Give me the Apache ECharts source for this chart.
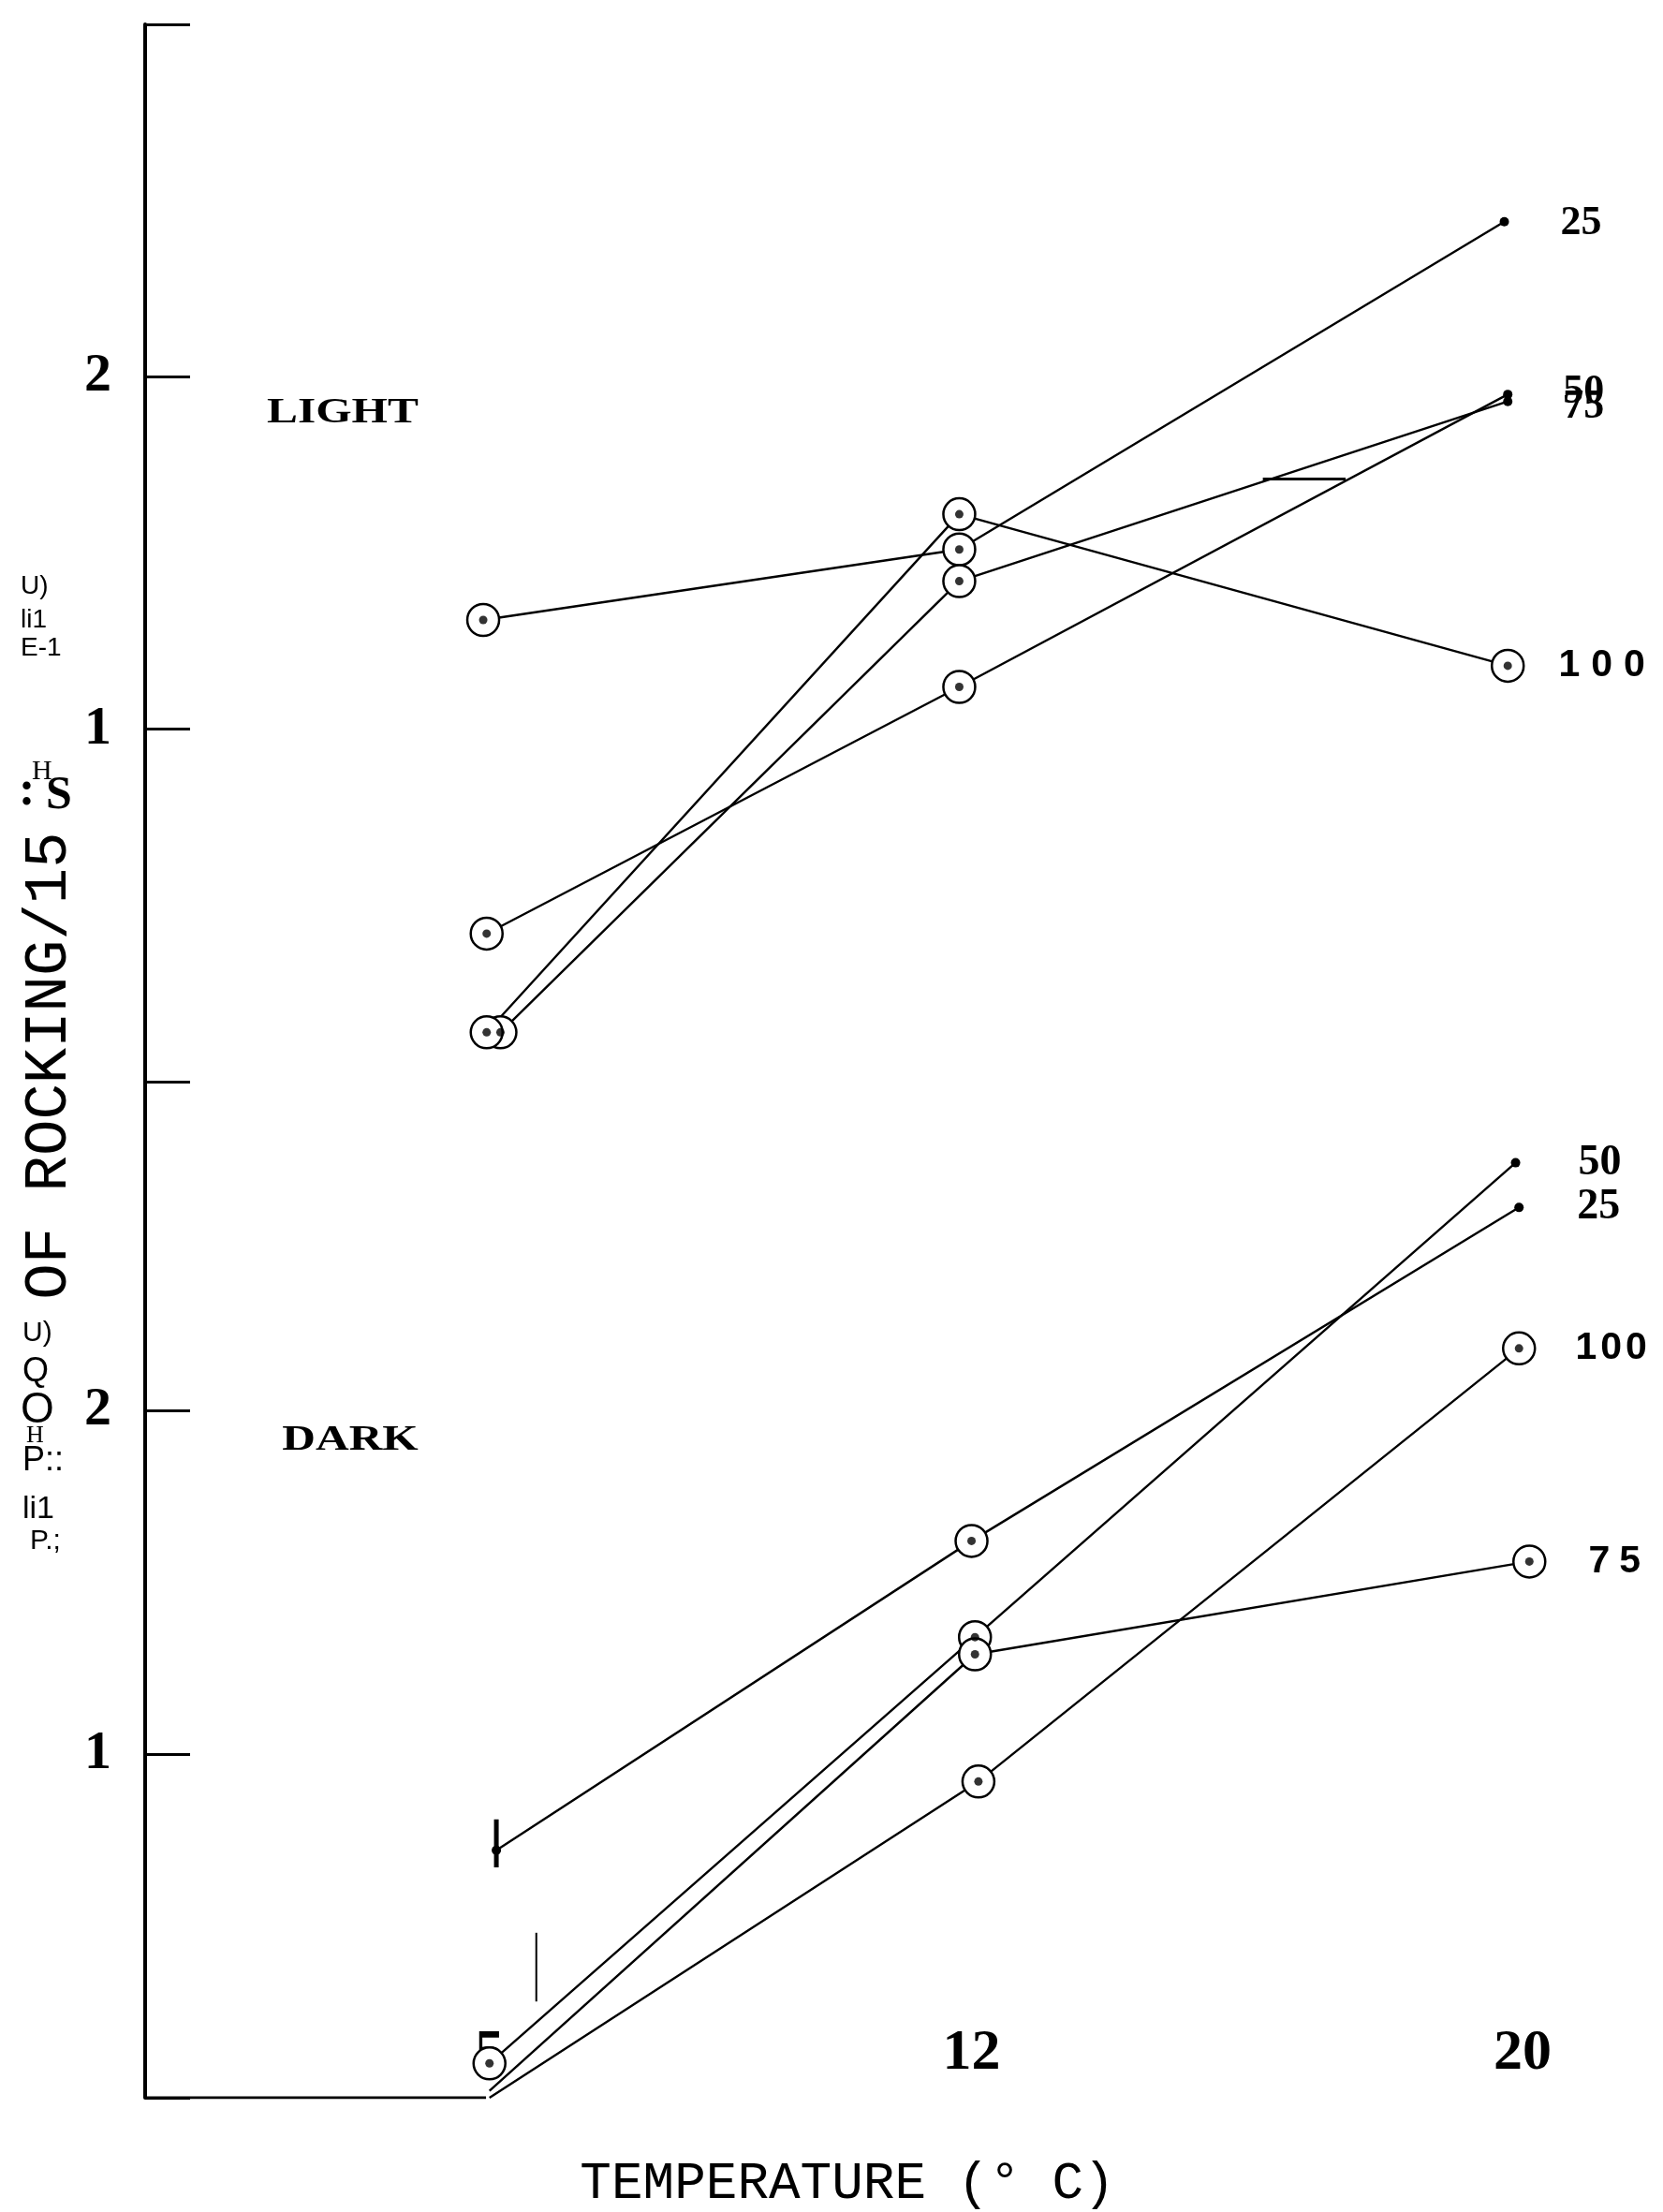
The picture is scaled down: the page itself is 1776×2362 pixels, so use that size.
<!DOCTYPE html>
<html>
<head>
<meta charset="utf-8">
<script src="https://cdn.jsdelivr.net/npm/echarts@6/dist/echarts.min.js"></script>
<style>
  html, body { margin: 0; background: #fff; }
  #chart { width: 1776px; height: 2362px; }
</style>
</head>
<body>
<div id="chart"></div>
<script>
  // tick labels
  const tempLabels = [5, 12, 20];
  const yLabels = [1, 2];

  // LIGHT panel (rocking / 15 min against temperature)
  const light25X = [4.9, 11.8, 19.7];
  const light25Y = [1.31, 1.51, 2.44];
  const light50X = [4.95, 11.8, 19.75];
  const light50Y = [0.42, 1.12, 1.95];
  const light75X = [5.15, 11.8, 19.75];
  const light75Y = [0.14, 1.42, 1.93];
  const light100X = [4.95, 11.8, 19.75];
  const light100Y = [0.14, 1.61, 1.18];

  // DARK panel
  const dark25X = [5.1, 12.0, 19.95];
  const dark25Y = [0.72, 1.62, 2.59];
  const dark50X = [5.0, 12.05, 19.9];
  const dark50Y = [0.10, 1.34, 2.72];
  const dark75X = [5.0, 12.05, 20.1];
  const dark75Y = [0.02, 1.29, 1.56];
  const dark100X = [5.0, 12.1, 19.95];
  const dark100Y = [0.0, 0.92, 2.18];

  // marker kind of each point: ring = circled dot, dot = small dot
  const light25Marks = ['ring', 'ring', 'dot'];
  const light50Marks = ['ring', 'ring', 'dot'];
  const light75Marks = ['ring', 'ring', 'dot'];
  const light100Marks = ['ring', 'ring', 'ring'];
  const dark25Marks = ['dot', 'ring', 'dot'];
  const dark50Marks = ['ring', 'ring', 'dot'];
  const dark75Marks = ['none', 'ring', 'ring'];
  const dark100Marks = ['none', 'ring', 'ring'];

  // vertical range bars near 5 °C in the dark panel
  const darkBarX = [5.1, 5.68];
  const darkBarLow = [0.67, 0.28];
  const darkBarHigh = [0.81, 0.48];

  // short stray dash in the light panel
  const lightDashX = [16.2, 17.4];
  const lightDashY = [1.71, 1.71];

  // x axis line only drawn up to the first temperature
  const xAxisStub = [0, 4.95];

  const serifBold = { fontFamily: 'Liberation Serif', fontWeight: 'bold', color: '#000' };

  function spaced(text, size, pad) {
    return {
      formatter: text.split('').map(c => '{d|' + c + '}').join(''),
      rich: { d: { fontFamily: 'Liberation Sans', fontWeight: 'bold', fontSize: size, color: '#000', padding: [0, pad, 0, pad] } }
    };
  }

  const endLabels = {
    l25: Object.assign({ distance: 55, fontSize: 44, formatter: '25', offset: [0, 2] }, serifBold),
    l50: Object.assign({ distance: 54, fontSize: 44, formatter: '50', offset: [0, -3] }, serifBold),
    l75: Object.assign({ distance: 54, fontSize: 44, formatter: '75', offset: [0, 6] }, serifBold),
    l100: Object.assign({ distance: 30 }, spaced('100', 41, 6)),
    d50: Object.assign({ distance: 62, fontSize: 46, formatter: '50' }, serifBold),
    d25: Object.assign({ distance: 57, fontSize: 46, formatter: '25' }, serifBold),
    d100: Object.assign({ distance: 40 }, spaced('100', 41, 2)),
    d75: Object.assign({ distance: 40 }, spaced('75', 41, 5))
  };

  function item(x, y, mark) {
    if (mark === 'ring') {
      return { value: [x, y], symbol: 'circle', symbolSize: 34,
        itemStyle: { color: '#fff', borderColor: '#000', borderWidth: 2.5 } };
    }
    if (mark === 'dot') {
      return { value: [x, y], symbol: 'circle', symbolSize: 10,
        itemStyle: { color: '#000', borderWidth: 0 } };
    }
    return { value: [x, y], symbol: 'none' };
  }

  const centers = [[], []];

  function makeLine(name, xs, ys, marks, grid, label) {
    const data = xs.map((x, i) => item(x, ys[i], marks[i]));
    marks.forEach((m, i) => { if (m === 'ring') centers[grid].push([xs[i], ys[i]]); });
    const last = data[data.length - 1];
    last.label = Object.assign({ show: true, position: 'right' }, label);
    return {
      name: name, type: 'line', xAxisIndex: grid, yAxisIndex: grid,
      data: data, color: '#000', silent: true, z: 2,
      lineStyle: { color: '#000', width: 2.4 }
    };
  }

  function plain(grid, pts, width) {
    return {
      type: 'line', xAxisIndex: grid, yAxisIndex: grid, silent: true, symbol: 'none', z: 1,
      data: pts, lineStyle: { color: '#000', width: width }
    };
  }

  const series = [
    makeLine('25', light25X, light25Y, light25Marks, 0, endLabels.l25),
    makeLine('50', light50X, light50Y, light50Marks, 0, endLabels.l50),
    makeLine('75', light75X, light75Y, light75Marks, 0, endLabels.l75),
    makeLine('100', light100X, light100Y, light100Marks, 0, endLabels.l100),
    makeLine('25', dark25X, dark25Y, dark25Marks, 1, endLabels.d25),
    makeLine('50', dark50X, dark50Y, dark50Marks, 1, endLabels.d50),
    makeLine('75', dark75X, dark75Y, dark75Marks, 1, endLabels.d75),
    makeLine('100', dark100X, dark100Y, dark100Marks, 1, endLabels.d100)
  ];

  [0, 1].forEach(g => {
    series.push({
      type: 'scatter', xAxisIndex: g, yAxisIndex: g, data: centers[g],
      symbol: 'circle', symbolSize: 9, itemStyle: { color: '#000' }, silent: true, z: 5
    });
  });

  series.push(plain(1, xAxisStub.map(x => [x, 0]), 3));
  series.push(plain(1, [[darkBarX[0], darkBarLow[0]], [darkBarX[0], darkBarHigh[0]]], 5));
  series.push(plain(1, [[darkBarX[1], darkBarLow[1]], [darkBarX[1], darkBarHigh[1]]], 2));
  series.push(plain(0, lightDashX.map((x, i) => [x, lightDashY[i]]), 3));

  function yAxis(grid, max) {
    return {
      type: 'value', gridIndex: grid, min: 0, max: max, interval: 1,
      axisLine: { show: true, lineStyle: { color: '#000', width: 4 } },
      axisTick: { show: true, inside: true, length: 48, lineStyle: { color: '#000', width: 3 } },
      splitLine: { show: false },
      axisLabel: {
        margin: 36, fontFamily: 'Liberation Serif', fontWeight: 'bold', fontSize: 58, color: '#000',
        formatter: v => yLabels.includes(v) ? String(v) : ''
      }
    };
  }

  const option = {
    backgroundColor: '#fff',
    animation: false,
    grid: [
      { left: 155, right: 0, top: 26, height: 1129 },
      { left: 155, right: 0, top: 1155, height: 1085 }
    ],
    xAxis: [
      { type: 'value', gridIndex: 0, min: 0, max: 22, show: false },
      {
        type: 'value', gridIndex: 1, min: 0, max: 22, interval: 1,
        axisLine: { show: false }, axisTick: { show: false }, splitLine: { show: false },
        axisLabel: {
          inside: true, margin: 16, fontFamily: 'Liberation Serif', fontWeight: 'bold',
          fontSize: 62, color: '#000', verticalAlign: 'bottom',
          formatter: v => tempLabels.includes(v) ? String(v) : ''
        }
      }
    ],
    yAxis: [yAxis(0, 3), yAxis(1, 2.956)],
    graphic: [
      { type: 'text', x: 366, y: 441, scaleX: 1.3, style: { text: 'LIGHT', fill: '#000', font: 'bold 38px "Liberation Serif"', align: 'center', verticalAlign: 'middle' } },
      { type: 'text', x: 374, y: 1538, scaleX: 1.3, style: { text: 'DARK', fill: '#000', font: 'bold 38px "Liberation Serif"', align: 'center', verticalAlign: 'middle' } },
      { type: 'text', x: 53, y: 1138, rotation: Math.PI / 2, style: { text: 'OF ROCKING/15', fill: '#000', font: '64px "Liberation Mono"', align: 'center', verticalAlign: 'middle' } },
      { type: 'text', x: 905, y: 2332, style: { text: 'TEMPERATURE (° C)', fill: '#000', font: '56px "Liberation Mono"', align: 'center', verticalAlign: 'middle' } },
      { type: 'text', x: 22, y: 626, style: { text: 'U)', fill: '#000', font: '28px "Liberation Sans"', verticalAlign: 'middle' } },
      { type: 'text', x: 22, y: 662, style: { text: 'li1', fill: '#000', font: '28px "Liberation Sans"', verticalAlign: 'middle' } },
      { type: 'text', x: 22, y: 692, style: { text: 'E-1', fill: '#000', font: '28px "Liberation Sans"', verticalAlign: 'middle' } },
      { type: 'text', x: 20, y: 846, style: { text: ':', fill: '#000', font: 'bold 52px "Liberation Serif"', verticalAlign: 'middle' } },
      { type: 'text', x: 34, y: 824, style: { text: 'H', fill: '#000', font: '30px "Liberation Serif"', verticalAlign: 'middle' } },
      { type: 'text', x: 49, y: 850, style: { text: 'S', fill: '#000', font: 'bold 50px "Liberation Serif"', verticalAlign: 'middle' } },
      { type: 'text', x: 24, y: 1424, style: { text: 'U)', fill: '#000', font: '30px "Liberation Sans"', verticalAlign: 'middle' } },
      { type: 'text', x: 24, y: 1465, style: { text: 'Q', fill: '#000', font: '36px "Liberation Sans"', verticalAlign: 'middle' } },
      { type: 'text', x: 22, y: 1506, style: { text: 'O', fill: '#000', font: '46px "Liberation Sans"', verticalAlign: 'middle' } },
      { type: 'text', x: 28, y: 1533, style: { text: 'H', fill: '#000', font: '26px "Liberation Serif"', verticalAlign: 'middle' } },
      { type: 'text', x: 24, y: 1560, style: { text: 'P::', fill: '#000', font: '36px "Liberation Sans"', verticalAlign: 'middle' } },
      { type: 'text', x: 24, y: 1612, style: { text: 'li1', fill: '#000', font: '34px "Liberation Sans"', verticalAlign: 'middle' } },
      { type: 'text', x: 32, y: 1646, style: { text: 'P.;', fill: '#000', font: '30px "Liberation Sans"', verticalAlign: 'middle' } }
    ],
    series: series
  };

  const myChart = echarts.init(document.getElementById('chart'));
  myChart.setOption(option);
</script>
</body>
</html>
